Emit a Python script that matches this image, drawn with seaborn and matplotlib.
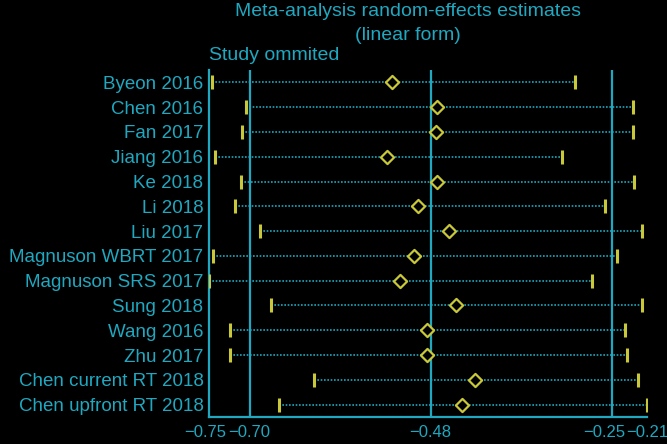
import matplotlib
matplotlib.use("Agg")
import matplotlib.pyplot as plt
import matplotlib.transforms as mtransforms
import seaborn as sns
import pandas as pd

studies = ["Byeon 2016", "Chen 2016", "Fan 2017", "Jiang 2016", "Ke 2018", "Li 2018",
           "Liu 2017", "Magnuson WBRT 2017", "Magnuson SRS 2017", "Sung 2018",
           "Wang 2016", "Zhu 2017", "Chen current RT 2018", "Chen upfront RT 2018"]
estimate = [-0.523, -0.467, -0.469, -0.530, -0.467, -0.491,
            -0.453, -0.496, -0.514, -0.444, -0.480, -0.480, -0.421, -0.436]
lower = [-0.746, -0.705, -0.709, -0.743, -0.711, -0.718,
         -0.687, -0.745, -0.7503, -0.673, -0.724, -0.724, -0.620, -0.664]
upper = [-0.297, -0.225, -0.225, -0.313, -0.223, -0.259,
         -0.214, -0.245, -0.275, -0.214, -0.234, -0.232, -0.218, -0.2072]

overall = -0.4754
overall_lo = -0.70
overall_hi = -0.25
tick_vals = [-0.7503, -0.70, -0.4754, -0.25, -0.2072]
tick_labels = ["\u22120.75", "\u22120.70", "\u22120.48", "\u22120.25", "\u22120.21"]

df = pd.DataFrame({"study": studies, "est": estimate, "lo": lower, "hi": upper})
df["pos"] = range(len(df))

CYAN = "#1fa8c0"
YEL = "#c8c83a"

sns.set_style("dark")
plt.rcParams["font.family"] = ["Liberation Sans", "DejaVu Sans"]

fig = plt.figure(figsize=(6.67, 4.44), dpi=100, facecolor="black")
ax = fig.add_axes([209/667, 1-417/444, (647-209)/667, (417-70)/444])
ax.set_facecolor("black")

for v in [overall_lo, overall, overall_hi]:
    ax.axvline(v, color=CYAN, lw=1.6, zorder=1)

ax.hlines(df["pos"], df["lo"], df["hi"], colors=CYAN, linestyles=(0, (1, 1)), lw=1.2, zorder=2)
sns.scatterplot(data=df, x="lo", y="pos", marker="|", s=110, color=YEL, linewidth=2.2, ax=ax, zorder=3)
sns.scatterplot(data=df, x="hi", y="pos", marker="|", s=110, color=YEL, linewidth=2.2, ax=ax, zorder=3)
sns.scatterplot(data=df, x="est", y="pos", marker="D", s=45, facecolor="black", edgecolor=YEL,
                linewidth=1.6, ax=ax, zorder=4)

ax.set_xlim(-0.7503, -0.2072)
ax.set_ylim(13.5, -0.5)
ax.set_yticks(df["pos"])
ax.set_yticklabels(studies)
ax.set_xticks(tick_vals)
ax.set_xticklabels(tick_labels)
ax.set_xlabel("")
ax.set_ylabel("")
ax.grid(False)
ax.tick_params(axis="y", length=0, pad=4, labelsize=13.5, colors=CYAN)
ax.tick_params(axis="x", length=4, width=1.5, pad=2, labelsize=12, colors=CYAN)
for s in ["top", "right"]:
    ax.spines[s].set_visible(False)
for s in ["left", "bottom"]:
    ax.spines[s].set_visible(True)
    ax.spines[s].set_color(CYAN)
    ax.spines[s].set_linewidth(1.6)

# nudge crowded tick labels apart so they touch but do not overlap
shifts = [-4, 0, 0, -8, 0]
for lab, dx in zip(ax.get_xticklabels(), shifts):
    if dx:
        lab.set_transform(lab.get_transform() +
                          mtransforms.ScaledTranslation(dx / 100, 0, fig.dpi_scale_trans))

fig.text(408/667, 1-12/444, "Meta-analysis random-effects estimates", color=CYAN, fontsize=14,
         ha="center", va="center")
fig.text(408/667, 1-35/444, "(linear form)", color=CYAN, fontsize=14, ha="center", va="center")
fig.text(209/667, 1-55/444, "Study ommited", color=CYAN, fontsize=14, ha="left", va="center")

fig.savefig("out.png", dpi=100, facecolor="black")
